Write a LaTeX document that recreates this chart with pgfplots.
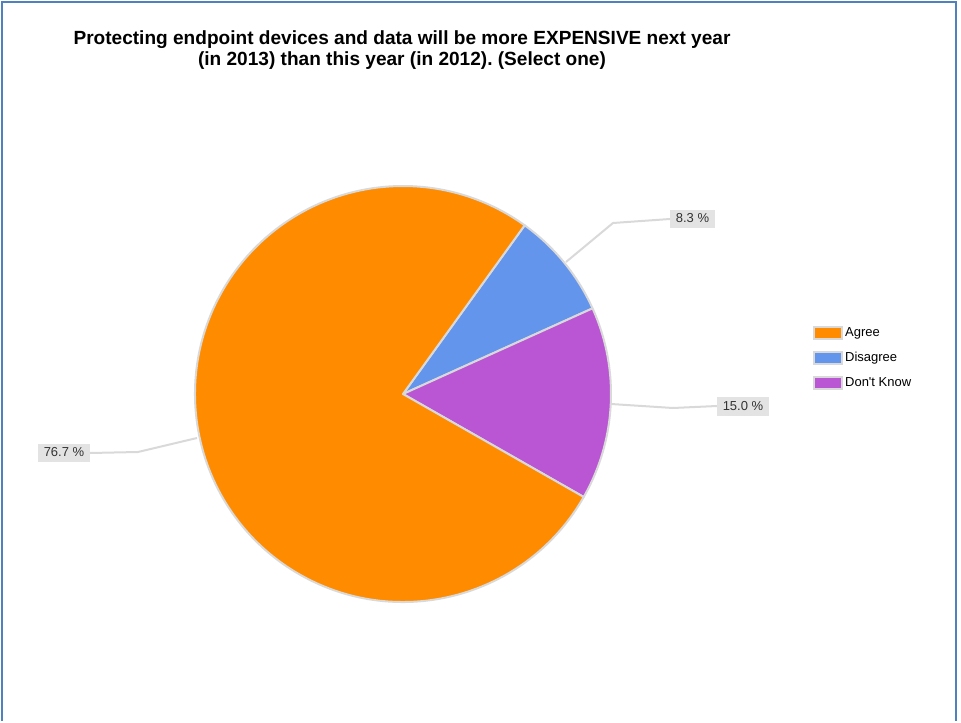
\documentclass[border=0pt]{standalone}
\usepackage{pgfplots}
\pgfplotsset{compat=1.18}
\usepackage{fontspec}
\setmainfont{Liberation Sans}
\frenchspacing

\definecolor{agreec}{HTML}{FF8C00}
\definecolor{disc}{HTML}{6495ED}
\definecolor{dkc}{HTML}{BA55D3}
\definecolor{edgec}{HTML}{D9D9D9}
\definecolor{boxc}{HTML}{E3E3E3}
\definecolor{framec}{HTML}{4F81BD}
\definecolor{txtc}{HTML}{333333}

% one wedge: start angle, share in percent, colour (drawn clockwise)
\newcommand\slice[3]{%
  \filldraw[fill=#3, draw=edgec, line width=1.5pt, line join=round]
    (axis cs:403,327) -- ([shift={(#1:156pt)}]axis cs:403,327)
    arc[start angle=#1, delta angle=-3.6*#2, radius=156pt] -- cycle;}

\begin{document}
\begin{tikzpicture}
\begin{axis}[
    hide axis, scale only axis,
    width=720.75pt, height=540.75pt,
    xmin=0, xmax=961, ymin=0, ymax=721,
    clip=false,
    legend cell align=left,
    legend style={at={(axis cs:809,399)}, anchor=north west,
        draw=none, fill=none, row sep=6.25pt,
        font=\fontsize{9.75}{11}\selectfont,
        nodes={inner sep=1.5pt, text height=7.5pt, text depth=2pt}},
    legend image code/.code={
        \filldraw[#1, draw=edgec, line width=1.4pt] (0pt,-4.5pt) rectangle (21pt,4.5pt);},
]
\path (axis cs:0,0) rectangle (axis cs:961,721);

% legend entries
\addlegendimage{fill=agreec}\addlegendentry{Agree}
\addlegendimage{fill=disc}\addlegendentry{Disagree}
\addlegendimage{fill=dkc}\addlegendentry{Don\textquotesingle t Know}

% wedges
\slice{54.2}{8.3}{disc}
\slice{24.32}{15.0}{dkc}
\slice{-29.68}{76.7}{agreec}

% leader lines
\draw[edgec, line width=1.5pt] (axis cs:566,459) -- (axis cs:613,498) -- (axis cs:670,502);
\draw[edgec, line width=1.5pt] (axis cs:611,317) -- (axis cs:673,313) -- (axis cs:717,315);
\draw[edgec, line width=1.5pt] (axis cs:197,283) -- (axis cs:138,269) -- (axis cs:90,268);

% value labels
\begin{scope}[every node/.style={fill=boxc, text=txtc, inner xsep=4.5pt,
    inner ysep=2pt, text height=7.5pt, text depth=2pt,
    font=\fontsize{9.75}{11}\selectfont}]
\node at (axis cs:692.5,502) {8.3 \%};
\node at (axis cs:743,314.5) {15.0 \%};
\node at (axis cs:64,268.5) {76.7 \%};
\end{scope}

% title
\node[align=center, font=\fontsize{14.3}{15.8}\bfseries\selectfont]
    at (axis cs:402,671) {Protecting endpoint devices and data will be more EXPENSIVE next year\\
    (in 2013) than this year (in 2012). (Select one)};

% frame
\draw[framec, line width=1.8pt] (axis cs:2,0) -- (axis cs:2,719) -- (axis cs:956,719) -- (axis cs:956,0);
\end{axis}
\end{tikzpicture}
\end{document}
